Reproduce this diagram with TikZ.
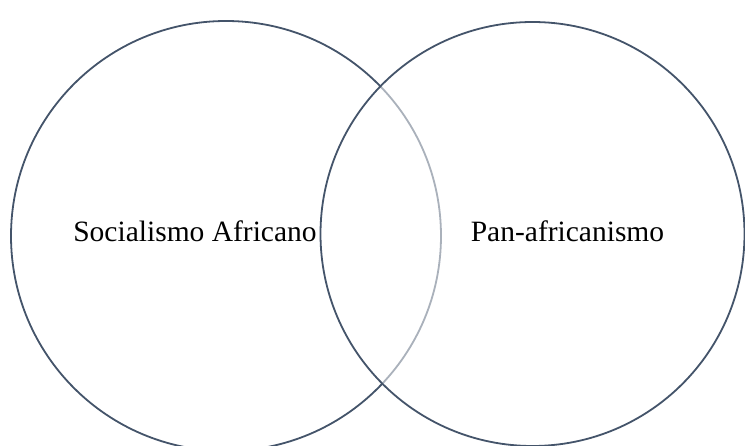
\documentclass[tikz,border=0pt]{standalone}
\usepackage{fontspec}
\setmainfont{Liberation Serif}
\begin{document}
\begin{tikzpicture}[x=1pt,y=-1pt,
  ring/.style={draw=ringcol,line width=1.8pt},
  lbl/.style={font=\fontsize{29.5}{34}\selectfont,text=black,inner sep=0pt,anchor=base}]
\definecolor{ringcol}{HTML}{44546A}
\useasboundingbox (0,0) rectangle (745,446);
\fill[white] (0,0) rectangle (745,446);
\begin{scope}
\clip (0,0) rectangle (745,446);
\node[circle,ring,minimum size=430pt,inner sep=0pt] (L) at (226,236) {};
\node[circle,minimum size=424pt,inner sep=0pt,fill=white,fill opacity=0.55] (Rfill) at (532.5,234) {};
\node[circle,ring,minimum size=424pt,inner sep=0pt] (R) at (532.5,234) {};
\end{scope}
\node[lbl] (t1) at (195,242) {Socialismo Africano};
\node[lbl] (t2) at (567.5,242) {Pan-africanismo};
\end{tikzpicture}
\end{document}
